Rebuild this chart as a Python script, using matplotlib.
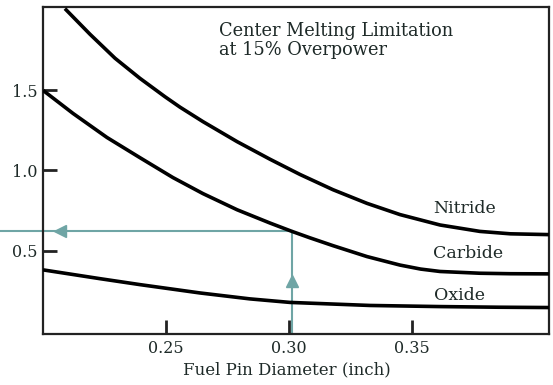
import matplotlib.pyplot as plt

# fuel pin diameter (inch) vs. value
nitride_x = [0.2089, 0.2191, 0.2293, 0.2394, 0.2496, 0.2557, 0.2650, 0.2789, 0.2923,
             0.3045, 0.3179, 0.3317, 0.3451, 0.3614, 0.3776, 0.3900, 0.4057]
nitride_y = [2.01, 1.85, 1.70, 1.575, 1.46, 1.395, 1.305, 1.18, 1.07,
             0.975, 0.88, 0.795, 0.725, 0.66, 0.62, 0.605, 0.60]

carbide_x = [0.2000, 0.2122, 0.2260, 0.2394, 0.2528, 0.2650, 0.2789, 0.2923, 0.3012,
             0.3085, 0.3179, 0.3317, 0.3451, 0.3535, 0.3614, 0.3776, 0.3900, 0.4057]
carbide_y = [1.50, 1.356, 1.206, 1.08, 0.956, 0.856, 0.755, 0.672, 0.620,
             0.580, 0.531, 0.463, 0.41, 0.385, 0.370, 0.359, 0.356, 0.355]

oxide_x = [0.2000, 0.2232, 0.2394, 0.2638, 0.2841, 0.3004, 0.3329, 0.3614, 0.3850, 0.4057]
oxide_y = [0.38, 0.325, 0.288, 0.236, 0.199, 0.177, 0.158, 0.151, 0.147, 0.145]

curve_labels = ["Nitride", "Carbide", "Oxide"]
label_pos = [(0.3585, 0.765), (0.3585, 0.485), (0.3590, 0.22)]

x_ticks = [0.25, 0.30, 0.35]
x_tick_labels = ["0.25", "0.30", "0.35"]
y_ticks = [0.5, 1.0, 1.5]
y_tick_labels = ["0.5", "1.0", "1.5"]

# example design point: 0.30 inch pin, carbide limit
design_x = 0.3012
design_y = 0.62

serif = ["DejaVu Serif"]
ink = "#1e2a28"
arrow_color = "#6fa5a5"

fig = plt.figure(figsize=(5.53, 3.85), dpi=100)
ax = fig.add_axes([0.0778, 0.1325, 0.915, 0.8493])

for xs, ys in [(nitride_x, nitride_y), (carbide_x, carbide_y), (oxide_x, oxide_y)]:
    ax.plot(xs, ys, color="black", linewidth=2.6, solid_capstyle="butt", zorder=3)

# reading arrows
ax.plot([0.1825, design_x], [design_y, design_y], color=arrow_color,
        linewidth=1.5, clip_on=False, zorder=2)
ax.plot([design_x, design_x], [-0.02, design_y], color=arrow_color,
        linewidth=1.5, zorder=2)
ax.plot([0.2068], [design_y], marker="<", markersize=8, color=arrow_color,
        clip_on=False, zorder=2)
ax.plot([design_x], [0.31], marker="^", markersize=8, color=arrow_color, zorder=2)

for name, (lx, ly) in zip(curve_labels, label_pos):
    ax.text(lx, ly, name, family=serif, fontsize=12.5, color=ink, va="center", ha="left")

ax.text(0.2715, 1.81, "Center Melting Limitation\nat 15% Overpower", family=serif,
        fontsize=12.8, color=ink, va="center", ha="left", linespacing=1.1)

ax.set_xlim(0.2, 0.4057)
ax.set_ylim(-0.02, 2.02)
ax.set_xticks(x_ticks)
ax.set_xticklabels(x_tick_labels, family=serif, fontsize=11.5, color=ink)
ax.set_yticks(y_ticks)
ax.set_yticklabels(y_tick_labels, family=serif, fontsize=11.5, color=ink)
ax.tick_params(direction="in", length=10, width=2, pad=4, color="#222222")
ax.set_xlabel("Fuel Pin Diameter (inch)", family=serif, fontsize=12, color=ink)
ax.xaxis.set_label_coords(0.482, -0.085)

for spine in ax.spines.values():
    spine.set_linewidth(1.6)
    spine.set_color("#222222")

fig.savefig("out.png", dpi=100, facecolor="white")
